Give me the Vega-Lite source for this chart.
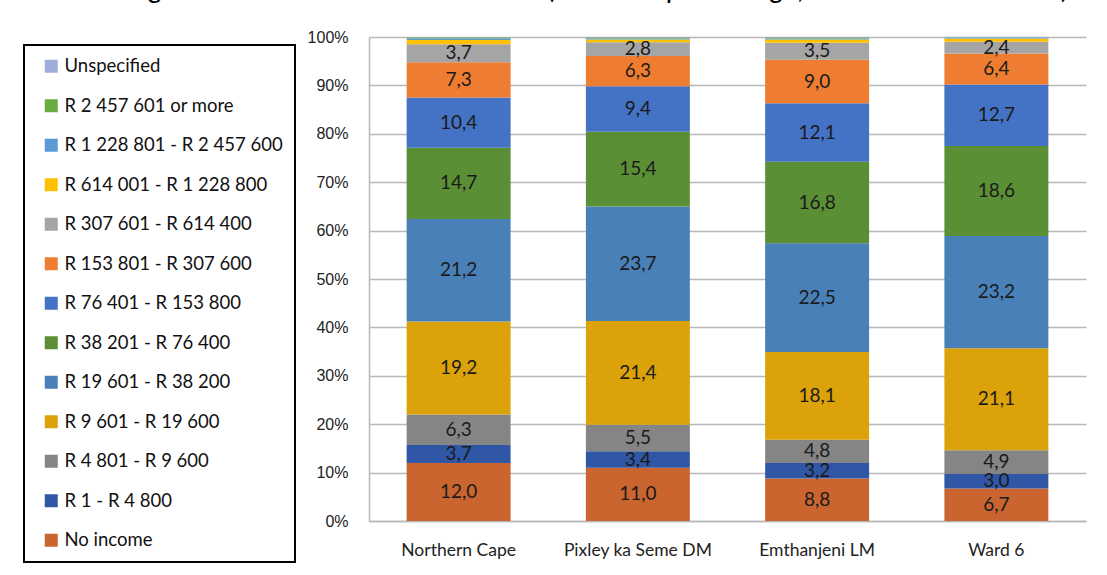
{
  "$schema": "https://vega.github.io/schema/vega-lite/v6.json",
  "width": 717,
  "height": 484,
  "autosize": {"type": "none"},
  "padding": {"left": 369, "top": 37, "right": 21, "bottom": 54},
  "background": "white",
  "config": {
    "locale": {"number": {"decimal": ",", "thousands": " ", "grouping": [3], "currency": ["R", ""]}},
    "view": {"stroke": null},
    "font": "Lato"
  },
  "title": {
    "text": "Figure 1: Annual household income (shown in percentage; Source: Census 2011)",
    "anchor": "start",
    "dx": 105,
    "dy": 5,
    "offset": 8,
    "baseline": "alphabetic",
    "fontSize": 28.5,
    "fontStyle": "italic",
    "fontWeight": "normal",
    "font": "Lato",
    "color": "#000000"
  },
  "data": {"values": [
    {"area": "Northern Cape", "group": "No income", "k": 1, "v": 12.0},
    {"area": "Northern Cape", "group": "R 1 - R 4 800", "k": 2, "v": 3.7},
    {"area": "Northern Cape", "group": "R 4 801 - R 9 600", "k": 3, "v": 6.3},
    {"area": "Northern Cape", "group": "R 9 601 - R 19 600", "k": 4, "v": 19.2},
    {"area": "Northern Cape", "group": "R 19 601 - R 38 200", "k": 5, "v": 21.2},
    {"area": "Northern Cape", "group": "R 38 201 - R 76 400", "k": 6, "v": 14.7},
    {"area": "Northern Cape", "group": "R 76 401 - R 153 800", "k": 7, "v": 10.4},
    {"area": "Northern Cape", "group": "R 153 801 - R 307 600", "k": 8, "v": 7.3},
    {"area": "Northern Cape", "group": "R 307 601 - R 614 400", "k": 9, "v": 3.7},
    {"area": "Northern Cape", "group": "R 614 001 - R 1 228 800", "k": 10, "v": 0.9},
    {"area": "Northern Cape", "group": "R 1 228 801 - R 2 457 600", "k": 11, "v": 0.3},
    {"area": "Northern Cape", "group": "R 2 457 601 or more", "k": 12, "v": 0.2},
    {"area": "Northern Cape", "group": "Unspecified", "k": 13, "v": 0.1},
    {"area": "Pixley ka Seme DM", "group": "No income", "k": 1, "v": 11.0},
    {"area": "Pixley ka Seme DM", "group": "R 1 - R 4 800", "k": 2, "v": 3.4},
    {"area": "Pixley ka Seme DM", "group": "R 4 801 - R 9 600", "k": 3, "v": 5.5},
    {"area": "Pixley ka Seme DM", "group": "R 9 601 - R 19 600", "k": 4, "v": 21.4},
    {"area": "Pixley ka Seme DM", "group": "R 19 601 - R 38 200", "k": 5, "v": 23.7},
    {"area": "Pixley ka Seme DM", "group": "R 38 201 - R 76 400", "k": 6, "v": 15.4},
    {"area": "Pixley ka Seme DM", "group": "R 76 401 - R 153 800", "k": 7, "v": 9.4},
    {"area": "Pixley ka Seme DM", "group": "R 153 801 - R 307 600", "k": 8, "v": 6.3},
    {"area": "Pixley ka Seme DM", "group": "R 307 601 - R 614 400", "k": 9, "v": 2.8},
    {"area": "Pixley ka Seme DM", "group": "R 614 001 - R 1 228 800", "k": 10, "v": 0.6},
    {"area": "Pixley ka Seme DM", "group": "R 1 228 801 - R 2 457 600", "k": 11, "v": 0.2},
    {"area": "Pixley ka Seme DM", "group": "R 2 457 601 or more", "k": 12, "v": 0.2},
    {"area": "Pixley ka Seme DM", "group": "Unspecified", "k": 13, "v": 0.1},
    {"area": "Emthanjeni LM", "group": "No income", "k": 1, "v": 8.8},
    {"area": "Emthanjeni LM", "group": "R 1 - R 4 800", "k": 2, "v": 3.2},
    {"area": "Emthanjeni LM", "group": "R 4 801 - R 9 600", "k": 3, "v": 4.8},
    {"area": "Emthanjeni LM", "group": "R 9 601 - R 19 600", "k": 4, "v": 18.1},
    {"area": "Emthanjeni LM", "group": "R 19 601 - R 38 200", "k": 5, "v": 22.5},
    {"area": "Emthanjeni LM", "group": "R 38 201 - R 76 400", "k": 6, "v": 16.8},
    {"area": "Emthanjeni LM", "group": "R 76 401 - R 153 800", "k": 7, "v": 12.1},
    {"area": "Emthanjeni LM", "group": "R 153 801 - R 307 600", "k": 8, "v": 9.0},
    {"area": "Emthanjeni LM", "group": "R 307 601 - R 614 400", "k": 9, "v": 3.5},
    {"area": "Emthanjeni LM", "group": "R 614 001 - R 1 228 800", "k": 10, "v": 0.7},
    {"area": "Emthanjeni LM", "group": "R 1 228 801 - R 2 457 600", "k": 11, "v": 0.2},
    {"area": "Emthanjeni LM", "group": "R 2 457 601 or more", "k": 12, "v": 0.2},
    {"area": "Emthanjeni LM", "group": "Unspecified", "k": 13, "v": 0.1},
    {"area": "Ward 6", "group": "No income", "k": 1, "v": 6.7},
    {"area": "Ward 6", "group": "R 1 - R 4 800", "k": 2, "v": 3.0},
    {"area": "Ward 6", "group": "R 4 801 - R 9 600", "k": 3, "v": 4.9},
    {"area": "Ward 6", "group": "R 9 601 - R 19 600", "k": 4, "v": 21.1},
    {"area": "Ward 6", "group": "R 19 601 - R 38 200", "k": 5, "v": 23.2},
    {"area": "Ward 6", "group": "R 38 201 - R 76 400", "k": 6, "v": 18.6},
    {"area": "Ward 6", "group": "R 76 401 - R 153 800", "k": 7, "v": 12.7},
    {"area": "Ward 6", "group": "R 153 801 - R 307 600", "k": 8, "v": 6.4},
    {"area": "Ward 6", "group": "R 307 601 - R 614 400", "k": 9, "v": 2.4},
    {"area": "Ward 6", "group": "R 614 001 - R 1 228 800", "k": 10, "v": 0.7},
    {"area": "Ward 6", "group": "R 1 228 801 - R 2 457 600", "k": 11, "v": 0.2},
    {"area": "Ward 6", "group": "R 2 457 601 or more", "k": 12, "v": 0.0},
    {"area": "Ward 6", "group": "Unspecified", "k": 13, "v": 0.1}
  ]},
  "encoding": {
    "x": {
      "field": "area", "type": "nominal",
      "sort": ["Northern Cape", "Pixley ka Seme DM", "Emthanjeni LM", "Ward 6"],
      "scale": {"paddingInner": 0.42, "paddingOuter": 0.21},
      "axis": {
        "title": null, "labelAngle": 0, "ticks": false, "labelPadding": 20,
        "labelFontSize": 17.5, "labelColor": "#222222", "labelFont": "Lato",
        "domainColor": "#B8B8B8", "domainWidth": 1.5
      }
    },
    "y": {
      "field": "v", "type": "quantitative", "stack": "zero",
      "scale": {"domain": [0, 100], "nice": false},
      "axis": {
        "title": null, "values": [0, 10, 20, 30, 40, 50, 60, 70, 80, 90, 100],
        "labelExpr": "datum.value + '%'", "ticks": false, "labelPadding": 21,
        "labelFontSize": 16, "labelColor": "#222222", "labelFont": "Liberation Sans",
        "gridColor": "#B8B8B8", "gridWidth": 1.5, "domainColor": "#B8B8B8", "domainWidth": 1.5
      }
    },
    "order": {"field": "k", "type": "quantitative", "sort": "ascending"}
  },
  "layer": [
    {
      "mark": {"type": "bar", "strokeWidth": 0},
      "encoding": {
        "color": {
          "field": "group", "type": "nominal",
          "sort": ["Unspecified", "R 2 457 601 or more", "R 1 228 801 - R 2 457 600", "R 614 001 - R 1 228 800", "R 307 601 - R 614 400", "R 153 801 - R 307 600", "R 76 401 - R 153 800", "R 38 201 - R 76 400", "R 19 601 - R 38 200", "R 9 601 - R 19 600", "R 4 801 - R 9 600", "R 1 - R 4 800", "No income"],
          "scale": {
            "domain": ["Unspecified", "R 2 457 601 or more", "R 1 228 801 - R 2 457 600", "R 614 001 - R 1 228 800", "R 307 601 - R 614 400", "R 153 801 - R 307 600", "R 76 401 - R 153 800", "R 38 201 - R 76 400", "R 19 601 - R 38 200", "R 9 601 - R 19 600", "R 4 801 - R 9 600", "R 1 - R 4 800", "No income"],
            "range": ["#9DAEDB", "#6AAB44", "#5B9BD5", "#FFC000", "#A5A5A5", "#EF7D31", "#4472C4", "#5A8F36", "#4A80B8", "#DBA20A", "#858585", "#2F57A5", "#CB6530"]
          },
          "legend": {
            "title": null,
            "orient": "none",
            "legendX": -345,
            "legendY": 8,
            "symbolType": "square",
            "symbolSize": 169,
            "symbolStrokeWidth": 0,
            "labelFontSize": 18.5,
            "labelFont": "Lato",
            "labelColor": "#111111",
            "labelOffset": 4,
            "labelLimit": 400,
            "rowPadding": 20.5,
            "padding": 12,
            "symbolOffset": 6,
            "strokeColor": "#000000",
            "fillColor": "#FFFFFF",
            "encode": {"legend": {"update": {"strokeWidth": {"value": 2}}}}
          }
        }
      }
    },
    {
      "transform": [{"filter": "datum.v >= 2"}],
      "mark": {"type": "text", "fontSize": 19, "font": "Lato", "color": "#1A1A1A", "baseline": "middle"},
      "encoding": {
        "y": {"field": "v", "type": "quantitative", "stack": "zero", "bandPosition": 0.5},
        "text": {"field": "v", "type": "quantitative", "format": ".1f"}
      }
    }
  ]
}
